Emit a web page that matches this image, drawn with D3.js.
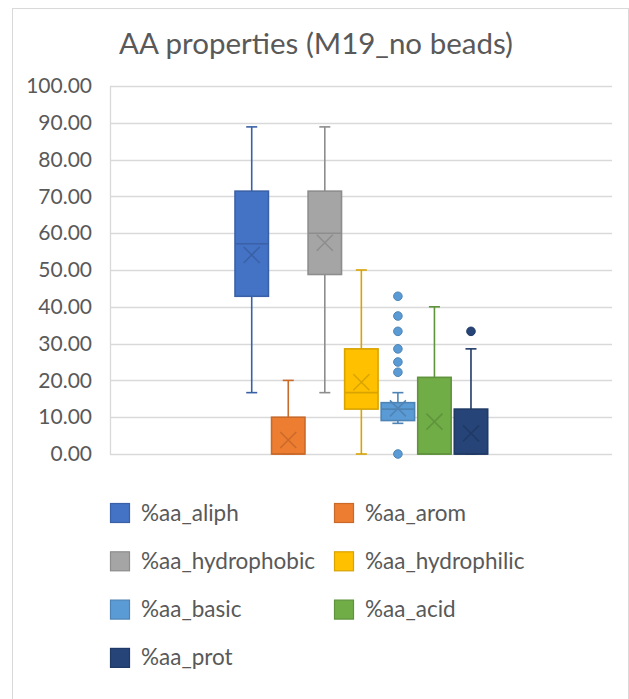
<!DOCTYPE html>
<html>
<head>
<meta charset="utf-8">
<script src="https://cdn.jsdelivr.net/npm/d3@7/dist/d3.min.js"></script>
<style>
  html, body { margin: 0; padding: 0; background: #fff; }
  svg { display: block; font-family: Lato, "Open Sans", sans-serif; }
</style>
</head>
<body>
<svg id="chart" width="629" height="699"></svg>
<script>
// Box-and-whisker summary per amino-acid property (%)
const series = ["%aa_aliph", "%aa_arom", "%aa_hydrophobic", "%aa_hydrophilic", "%aa_basic", "%aa_acid", "%aa_prot"];
const fills = ["#4472C4", "#ED7D31", "#A5A5A5", "#FFC000", "#5B9BD5", "#70AD47", "#264478"];
const whiskerLow = [16.67, 0, 16.67, 0, 8.33, 0, 0];
const q1 = [42.86, 0, 48.78, 12.20, 9.09, 0, 0];
const median = [57.14, 0, 60.00, 16.67, 12.20, 0, 0];
const q3 = [71.43, 10.00, 71.43, 28.57, 13.95, 20.83, 12.20];
const whiskerHigh = [88.89, 20.00, 88.89, 50.00, 16.67, 40.00, 28.57];
const means = [54.1, 3.8, 57.4, 19.5, 12.4, 8.8, 5.6];
const outliers = [[], [], [], [], [42.86, 37.50, 33.33, 28.57, 25.00, 22.22, 0], [], [33.33]];
const yTicks = [0, 10, 20, 30, 40, 50, 60, 70, 80, 90, 100];
const title = "AA properties (M19_no beads)";

const svg = d3.select("#chart");
const plot = { left: 110, right: 612, top: 86, bottom: 454 };

// Outer chart frame
svg.append("rect")
  .attr("x", 12.5).attr("y", 8.5).attr("width", 616).attr("height", 720)
  .attr("fill", "#fff").attr("stroke", "#D9D9D9").attr("stroke-width", 1);

svg.append("text")
  .attr("x", 316).attr("y", 54)
  .attr("text-anchor", "middle")
  .attr("font-size", 29.5).attr("fill", "#595959")
  .text(title);

const y = d3.scaleLinear().domain([0, 100]).range([plot.bottom, plot.top]);

// Single category; series placed side by side within it
const x = d3.scaleBand().domain(series)
  .range([235, 235 + 36.1 * series.length]).paddingInner(0.085).paddingOuter(0);

// Gridlines
svg.append("g").selectAll("line").data(yTicks).join("line")
  .attr("x1", plot.left).attr("x2", plot.right)
  .attr("y1", d => Math.round(y(d)) + 0.5).attr("y2", d => Math.round(y(d)) + 0.5)
  .attr("stroke", "#D9D9D9").attr("stroke-width", 1.3);

// Y axis
const yAxis = d3.axisLeft(y).tickValues(yTicks).tickFormat(d3.format(".2f")).tickSize(0).tickPadding(18);
const ga = svg.append("g").attr("transform", `translate(${plot.left},0)`).call(yAxis);
ga.select(".domain").attr("stroke", "#D9D9D9").attr("stroke-width", 1.3);
ga.selectAll("text").attr("font-size", 21).attr("fill", "#595959").attr("font-family", "Lato, 'Open Sans', sans-serif");

// Boxes
const g = svg.append("g");
series.forEach((s, i) => {
  const c = fills[i];
  const dark = d3.color(c).darker(0.45).formatHex();
  const x0 = x(s), w = x.bandwidth(), cx = x0 + w / 2;
  const cap = 11;
  // whiskers
  g.append("line").attr("x1", cx).attr("x2", cx)
    .attr("y1", y(q3[i])).attr("y2", y(whiskerHigh[i]))
    .attr("stroke", dark).attr("stroke-width", 1.6);
  g.append("line").attr("x1", cx - cap / 2).attr("x2", cx + cap / 2)
    .attr("y1", y(whiskerHigh[i])).attr("y2", y(whiskerHigh[i]))
    .attr("stroke", dark).attr("stroke-width", 1.6);
  g.append("line").attr("x1", cx).attr("x2", cx)
    .attr("y1", y(q1[i])).attr("y2", y(whiskerLow[i]))
    .attr("stroke", dark).attr("stroke-width", 1.6);
  g.append("line").attr("x1", cx - cap / 2).attr("x2", cx + cap / 2)
    .attr("y1", y(whiskerLow[i])).attr("y2", y(whiskerLow[i]))
    .attr("stroke", dark).attr("stroke-width", 1.6);
  // box
  g.append("rect").attr("x", x0).attr("width", w)
    .attr("y", y(q3[i])).attr("height", y(q1[i]) - y(q3[i]))
    .attr("fill", c).attr("stroke", dark).attr("stroke-width", 1.6);
  // median
  g.append("line").attr("x1", x0).attr("x2", x0 + w)
    .attr("y1", y(median[i])).attr("y2", y(median[i]))
    .attr("stroke", dark).attr("stroke-width", 1.6);
  // mean marker
  const m = y(means[i]), r = 8;
  g.append("path")
    .attr("d", `M${cx - r},${m - r}L${cx + r},${m + r}M${cx - r},${m + r}L${cx + r},${m - r}`)
    .attr("stroke", dark).attr("stroke-width", 1.5).attr("fill", "none");
  // outliers
  g.selectAll(null).data(outliers[i]).join("circle")
    .attr("cx", cx).attr("cy", d => y(d)).attr("r", 4.3)
    .attr("fill", c).attr("stroke", dark).attr("stroke-width", 1);
});

// Legend (two columns)
const leg = svg.append("g");
series.forEach((s, i) => {
  const col = i % 2, row = Math.floor(i / 2);
  const lx = col === 0 ? 110 : 334, ly = 513 + row * 48.3;
  const dark = d3.color(fills[i]).darker(0.45).formatHex();
  leg.append("rect").attr("x", lx + 0.5).attr("y", ly - 9.5).attr("width", 19).attr("height", 19)
    .attr("fill", fills[i]).attr("stroke", dark).attr("stroke-width", 1.2);
  leg.append("text").attr("x", lx + 31).attr("y", ly + 7.5)
    .attr("font-size", 22.5).attr("fill", "#595959").text(s);
});
</script>
</body>
</html>
